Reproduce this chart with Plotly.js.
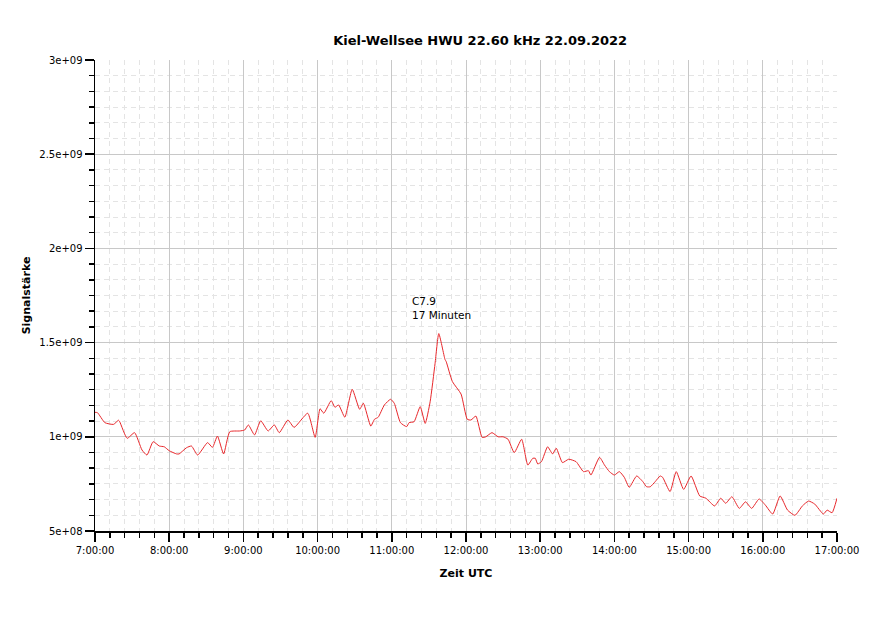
<!DOCTYPE html>
<html>
<head>
<meta charset="utf-8">
<script src="https://cdn.plot.ly/plotly-3.0.1.min.js"></script>
<style>html,body{margin:0;padding:0;background:#fff;}#chart{width:873px;height:618px;}</style>
</head>
<body>
<div id="chart"></div>
<script>
const day = "2022-09-22";
const times = [
"07:00","07:02","07:08","07:15","07:19","07:20","07:26","07:32","07:38","07:42","07:47","07:52","07:56",
"08:00","08:06","08:08","08:14","08:18","08:23","08:31","08:35","08:39","08:44","08:49","08:57",
"09:01","09:04","09:09","09:14","09:20","09:25","09:29","09:36","09:41","09:52","09:58",
"10:02","10:05","10:11","10:14","10:17","10:22","10:28","10:34","10:37","10:43","10:46","10:49","10:54","10:59",
"11:02","11:07","11:12","11:14","11:18","11:23","11:27","11:31","11:35","11:38","11:43","11:44","11:49","11:56",
"12:01","12:04","12:08","12:13","12:16","12:21","12:26","12:30","12:34","12:39","12:45","12:50","12:54","12:56","12:58",
"13:01","13:06","13:10","13:13","13:18","13:23","13:29","13:35","13:39","13:41","13:48","13:52","13:56",
"14:00","14:04","14:08","14:12","14:18","14:23","14:26","14:29","14:33","14:37","14:39","14:45","14:50","14:56",
"15:02","15:09","15:14","15:21","15:26","15:30","15:35","15:41","15:46","15:51","15:57",
"16:02","16:08","16:14","16:20","16:26","16:32","16:37","16:42","16:49","16:52","16:56","17:00"
];
const signal = [
1.130e9,1.128e9,1.075e9,1.066e9,1.088e9,1.080e9,0.992e9,1.022e9,0.930e9,0.903e9,0.974e9,0.951e9,0.947e9,
0.926e9,0.909e9,0.909e9,0.942e9,0.951e9,0.903e9,0.969e9,0.944e9,1.004e9,0.909e9,1.027e9,1.031e9,
1.036e9,1.063e9,1.010e9,1.085e9,1.031e9,1.063e9,1.022e9,1.089e9,1.050e9,1.125e9,0.997e9,
1.149e9,1.125e9,1.192e9,1.157e9,1.169e9,1.104e9,1.252e9,1.146e9,1.178e9,1.057e9,1.093e9,1.104e9,1.169e9,1.199e9,
1.178e9,1.075e9,1.054e9,1.075e9,1.080e9,1.160e9,1.071e9,1.186e9,1.390e9,1.548e9,1.411e9,1.399e9,1.293e9,1.227e9,
1.093e9,1.089e9,1.110e9,0.997e9,1.000e9,1.022e9,1.000e9,1.000e9,0.987e9,0.916e9,0.987e9,0.850e9,0.886e9,0.886e9,0.856e9,
0.868e9,0.947e9,0.909e9,0.939e9,0.863e9,0.881e9,0.868e9,0.815e9,0.820e9,0.797e9,0.891e9,0.850e9,0.815e9,
0.797e9,0.815e9,0.785e9,0.732e9,0.792e9,0.762e9,0.735e9,0.735e9,0.762e9,0.792e9,0.785e9,0.709e9,0.815e9,0.721e9,
0.792e9,0.686e9,0.674e9,0.633e9,0.674e9,0.647e9,0.682e9,0.620e9,0.655e9,0.620e9,0.670e9,
0.638e9,0.590e9,0.686e9,0.611e9,0.583e9,0.633e9,0.659e9,0.643e9,0.590e9,0.611e9,0.597e9,0.674e9
];
const yTickVals = [5e8, 1e9, 1.5e9, 2e9, 2.5e9, 3e9];
const yTickText = ["5e+08", "1e+09", "1.5e+09", "2e+09", "2.5e+09", "3e+09"];
const titleText = "Kiel-Wellsee HWU 22.60 kHz 22.09.2022";
const noteText = "C7.9<br>17 Minuten";

const font = "DejaVu Sans, Verdana, sans-serif";
const trace = {
  x: times.map(t => day + " " + t),
  y: signal,
  type: "scatter",
  mode: "lines",
  line: {color: "#e8282c", width: 1, shape: "spline", smoothing: 0.5},
  hoverinfo: "skip"
};
const minorGrid = {showgrid: true, gridcolor: "#e4e4e4", griddash: "5px,4px", gridwidth: 1};
const layout = {
  width: 873, height: 618,
  margin: {l: 95, r: 36, t: 60, b: 87, pad: 0},
  paper_bgcolor: "#ffffff", plot_bgcolor: "#ffffff",
  showlegend: false,
  font: {family: font, size: 10, color: "#000"},
  title: {text: "<b>" + titleText + "</b>", x: 0.55, xanchor: "center", y: 0.935, yanchor: "middle",
          font: {family: font, size: 13, color: "#000"}},
  xaxis: {
    type: "date",
    range: [day + " 07:00", day + " 17:00"],
    tick0: day + " 07:00", dtick: 3600000,
    tickformat: "%-H:%M:%S",
    ticks: "outside", ticklen: 9, tickwidth: 1.5, tickcolor: "#000",
    showline: true, linecolor: "#000", linewidth: 1.5, mirror: false,
    showgrid: true, gridcolor: "#c8c8c8", gridwidth: 1,
    zeroline: false,
    tickfont: {family: font, size: 10, color: "#000"},
    minor: Object.assign({dtick: 720000, tick0: day + " 07:00", ticks: "outside", ticklen: 5, tickwidth: 1.5, tickcolor: "#000"}, minorGrid),
    title: {text: "<b>Zeit UTC</b>", standoff: 15, font: {family: font, size: 11, color: "#000"}}
  },
  yaxis: {
    range: [5e8, 3e9],
    tickmode: "array", tickvals: yTickVals, ticktext: yTickText,
    ticks: "outside", ticklen: 9, tickwidth: 1.5, tickcolor: "#000",
    showline: true, linecolor: "#000", linewidth: 1.5, mirror: false,
    showgrid: true, gridcolor: "#c8c8c8", gridwidth: 1,
    zeroline: false,
    tickfont: {family: font, size: 10, color: "#000"},
    minor: Object.assign({tickmode: "linear", tick0: 5e8, dtick: 5e8 / 6, ticks: "outside", ticklen: 5, tickwidth: 1.5, tickcolor: "#000"}, minorGrid),
    title: {text: "<b>Signalstärke</b>", standoff: 6, font: {family: font, size: 11, color: "#000"}}
  },
  annotations: [{
    x: day + " 11:15", y: 1.684e9, xref: "x", yref: "y",
    text: noteText, showarrow: false, xanchor: "left", yanchor: "middle", align: "left",
    font: {family: font, size: 10.5, color: "#000"}
  }]
};
Plotly.newPlot("chart", [trace], layout, {displayModeBar: false, staticPlot: true});
</script>
</body>
</html>
